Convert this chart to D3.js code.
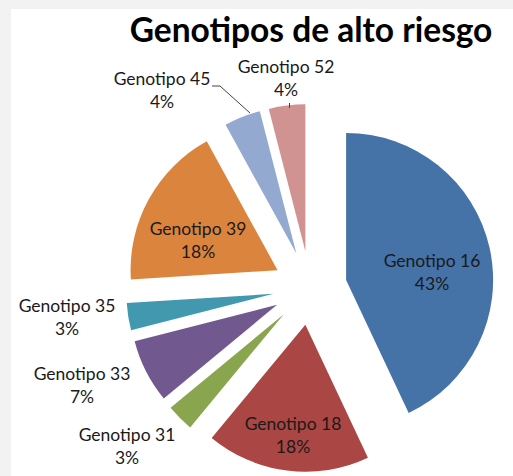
<!DOCTYPE html>
<html><head><meta charset="utf-8">
<script src="https://cdn.jsdelivr.net/npm/d3@7"></script>
<style>body{margin:0;background:#fff}svg{display:block}</style>
</head><body>
<svg id="c" width="513" height="476"></svg>
<script>
const categories = ["Genotipo 16","Genotipo 18","Genotipo 31","Genotipo 33","Genotipo 35","Genotipo 39","Genotipo 45","Genotipo 52"];
const values = [43, 18, 3, 7, 3, 18, 4, 4];
const colors = ["#4572A7","#AA4643","#89A54E","#71588F","#4198AF","#DB843D","#93A9CF","#D19392"];
const title = "Genotipos de alto riesgo";

const W = 513, H = 476;
const svg = d3.select("#c");
svg.append("rect").attr("width", W).attr("height", H).attr("fill", "#f2f2f2");
svg.append("rect").attr("x", 11).attr("y", 9).attr("width", W - 11).attr("height", H - 9).attr("fill", "#fff");

const cx = 310, cy = 288, R = 147, explode = 37;
const pie = d3.pie().sort(null).value(d => d)(values);
const arc = d3.arc().innerRadius(0).outerRadius(R);
const total = d3.sum(values);
const font = "Lato, 'Open Sans', sans-serif";

const g = svg.append("g").attr("transform", `translate(${cx},${cy})`);
pie.forEach((p, i) => {
  const mid = (p.startAngle + p.endAngle) / 2;
  const dx = Math.sin(mid) * explode, dy = -Math.cos(mid) * explode;
  g.append("path").attr("d", arc(p)).attr("fill", colors[i])
    .attr("transform", `translate(${dx},${dy})`);
});

// label positions (absolute, from the reference)
const labelPos = [[432,262],[293,425],[127,436],[82,375],[67,307],[198,230],[162,80],[286,68]];
categories.forEach((c, i) => {
  const [x, y] = labelPos[i];
  const t = svg.append("text").attr("x", x).attr("y", y).attr("text-anchor", "middle")
    .attr("font-family", font).attr("font-size", 17.5).attr("fill", "#1a1a1a");
  t.append("tspan").attr("x", x).attr("dy", "0.3em").text(c);
  t.append("tspan").attr("x", x).attr("dy", "1.32em").text(Math.round(values[i] / total * 100) + "%");
});

// leader lines
svg.append("polyline").attr("points", "212,86 220,86 250,113").attr("fill", "none").attr("stroke", "#444").attr("stroke-width", 1);
svg.append("line").attr("x1", 289.5).attr("y1", 103).attr("x2", 289.5).attr("y2", 108).attr("stroke", "#444").attr("stroke-width", 1);

svg.append("text").attr("x", 311).attr("y", 42).attr("text-anchor", "middle")
  .attr("font-family", font).attr("font-weight", "bold").attr("font-size", 33.5).attr("fill", "#000").text(title);
</script>
</body></html>
